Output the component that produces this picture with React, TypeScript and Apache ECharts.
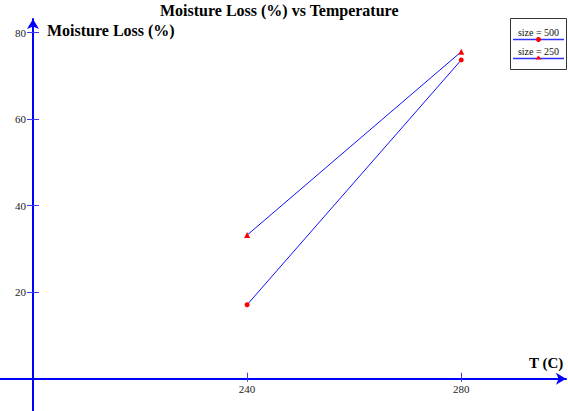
import React, { useEffect, useRef } from "react";
import * as echarts from "echarts";

const temps = [240, 280];
const size500 = [17.1, 73.7];
const size250 = [33.2, 75.6];
const xTickValues = [240, 280];
const yTickValues = [20, 40, 60, 80];
const seriesNames = ["size = 500", "size = 250"];

const FONT = "Liberation Serif";
const AXIS_BLUE = "#0000ff";
const TICK_BLUE = "#3a3aff";
const X_OFFSET = -32.3;

export default function App() {
  const ref = useRef<HTMLDivElement>(null);
  useEffect(() => {
    document.body.style.margin = "0";
    const chart = echarts.init(ref.current!, null, { renderer: "svg" });
    const legendText = (text: string, y: number) => ({
      type: "text",
      x: 28.5,
      y,
      style: {
        text,
        fontFamily: FONT,
        fontSize: 10,
        font: "normal normal 10px \"Liberation Serif\", serif",
        fill: "#111",
        align: "center",
        verticalAlign: "middle",
      },
    });
    const option: any = {
      animation: false,
      backgroundColor: "#ffffff",
      title: {
        text: "Moisture Loss (%) vs Temperature",
        left: 160,
        top: 2,
        padding: 0,
        textStyle: { fontFamily: FONT, fontWeight: "bold", fontSize: 16, color: "#000" },
      },
      grid: { left: 0, right: 2, top: 19, bottom: 0, outerBoundsMode: "none", containLabel: false },
      xAxis: [
        {
          type: "value",
          min: 193.84,
          max: 299.57,
          position: "bottom",
          offset: X_OFFSET,
          name: "T (C)",
          nameLocation: "end",
          nameGap: -37,
          nameTextStyle: {
            fontFamily: FONT,
            fontWeight: "bold",
            fontSize: 15,
            color: "#000",
            align: "left",
            verticalAlign: "bottom",
            padding: [0, 0, 8, 0],
          },
          axisLine: {
            onZero: false,
            lineStyle: { color: AXIS_BLUE, width: 2 },
            symbol: ["none", "arrow"],
            symbolSize: [9, 10],
          },
          axisTick: { show: true, inside: true, length: 6, customValues: xTickValues, lineStyle: { color: TICK_BLUE, width: 1 } },
          axisLabel: { customValues: xTickValues, margin: 5, fontFamily: FONT, fontSize: 11, color: "#222" },
          splitLine: { show: false },
        },
        {
          type: "value",
          min: 193.84,
          max: 299.57,
          position: "bottom",
          offset: X_OFFSET,
          axisLine: { show: false, onZero: false },
          axisTick: { show: true, inside: false, length: 3, customValues: xTickValues, lineStyle: { color: TICK_BLUE, width: 1 } },
          axisLabel: { show: false },
          splitLine: { show: false },
        },
      ],
      yAxis: [
        {
          type: "value",
          min: -7.47,
          max: 83.17,
          position: "left",
          offset: -33,
          name: "Moisture Loss (%)",
          nameLocation: "end",
          nameGap: -11,
          nameTextStyle: {
            fontFamily: FONT,
            fontWeight: "bold",
            fontSize: 16,
            color: "#000",
            align: "left",
            verticalAlign: "middle",
            padding: [0, 0, 0, 14],
          },
          axisLine: {
            show: true,
            onZero: false,
            lineStyle: { color: AXIS_BLUE, width: 2 },
            symbol: ["none", "arrow"],
            symbolSize: [9, 10],
          },
          axisTick: { show: true, inside: false, length: 6, customValues: yTickValues, lineStyle: { color: TICK_BLUE, width: 1 } },
          axisLabel: { customValues: yTickValues, margin: 7, fontFamily: FONT, fontSize: 11, color: "#222" },
          splitLine: { show: false },
        },
        {
          type: "value",
          min: -7.47,
          max: 83.17,
          position: "left",
          offset: -39,
          axisLine: { show: false, onZero: false },
          axisTick: { show: true, inside: false, length: 6, customValues: yTickValues, lineStyle: { color: TICK_BLUE, width: 1 } },
          axisLabel: { show: false },
          splitLine: { show: false },
        },
      ],
      series: [
        {
          name: seriesNames[0],
          type: "line",
          xAxisIndex: 0,
          yAxisIndex: 0,
          data: temps.map((t, i) => [t, size500[i]]),
          symbol: "circle",
          symbolSize: 5,
          showAllSymbol: true,
          lineStyle: { color: "#1010ff", width: 1 },
          itemStyle: { color: "#ff0000" },
          z: 3,
        },
        {
          name: seriesNames[1],
          type: "line",
          xAxisIndex: 0,
          yAxisIndex: 0,
          data: temps.map((t, i) => [t, size250[i]]),
          symbol: "triangle",
          symbolSize: 6,
          showAllSymbol: true,
          lineStyle: { color: "#1010ff", width: 1 },
          itemStyle: { color: "#ff0000" },
          z: 3,
        },
      ],
      graphic: [
        {
          type: "group",
          left: 510,
          top: 18,
          z: 100,
          children: [
            {
              type: "rect",
              shape: { x: 0.5, y: 0.5, width: 56, height: 51 },
              style: { fill: "#fff", stroke: "#333", lineWidth: 1 },
            },
            legendText(seriesNames[0], 14),
            {
              type: "line",
              shape: { x1: 3, y1: 21.5, x2: 54, y2: 21.5 },
              style: { stroke: "#3030ff", lineWidth: 1.5 },
            },
            { type: "circle", shape: { cx: 28.5, cy: 21.5, r: 2.5 }, style: { fill: "#ff0000" } },
            legendText(seriesNames[1], 33),
            {
              type: "line",
              shape: { x1: 3, y1: 40.5, x2: 54, y2: 40.5 },
              style: { stroke: "#3030ff", lineWidth: 1.5 },
            },
            {
              type: "polygon",
              shape: { points: [[28.5, 37.5], [31.5, 41.5], [25.5, 41.5]] },
              style: { fill: "#ff0000" },
            },
          ],
        },
      ],
    };
    chart.setOption(option);
    return () => chart.dispose();
  }, []);
  return <div ref={ref} style={{ position: "fixed", left: 0, top: 0, width: 568, height: 411 }} />;
}
